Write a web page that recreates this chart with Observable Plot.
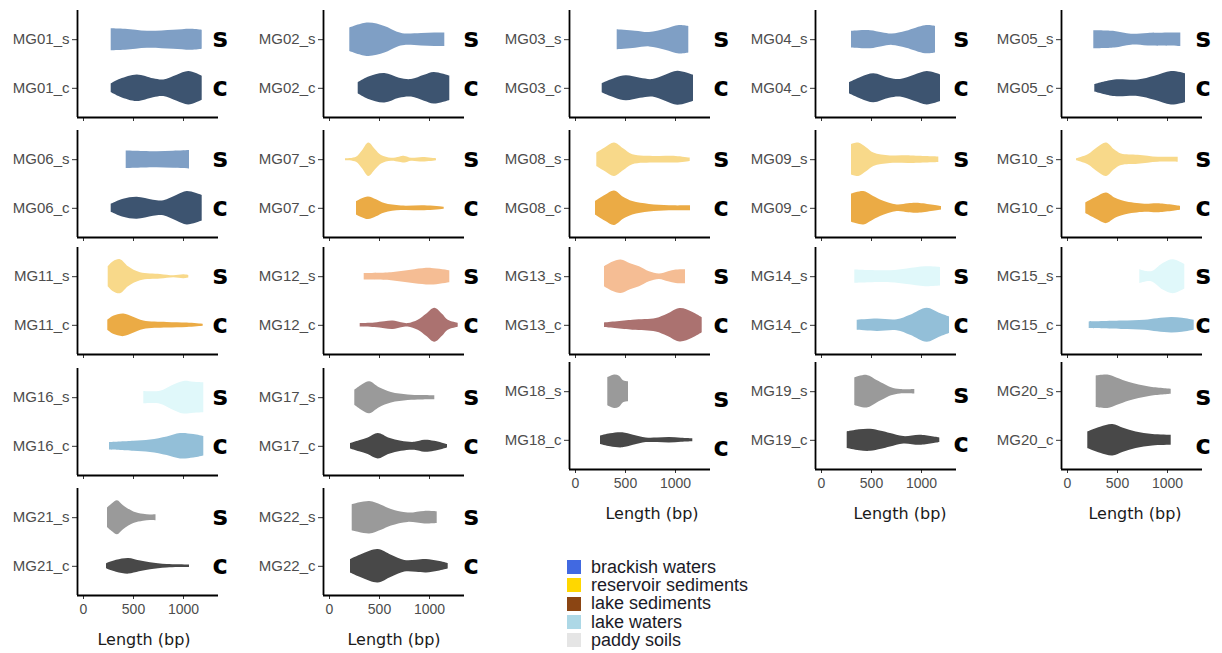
<!DOCTYPE html>
<html>
<head>
<meta charset="utf-8">
<script src="https://cdn.jsdelivr.net/npm/d3@7"></script>
<script src="https://cdn.jsdelivr.net/npm/@observablehq/plot@0.6"></script>
<style>
  body { margin: 0; background: #fff; }
  #fig { position: relative; width: 1222px; height: 653px; overflow: hidden; background: #fff; }
  #legend { position: absolute; left: 567px; top: 558px; font-family: "Liberation Sans", Arial, sans-serif; font-size: 18px; color: #1b1b28; }
  #legend .row { display: flex; align-items: center; height: 18.3px; }
  #legend .sw { width: 14px; height: 14px; margin-right: 10px; }
</style>
</head>
<body>
<div id="fig"><div id="legend"></div></div>
<script>
// ---------------- DATA ----------------
const samples = ["MG01","MG02","MG03","MG04","MG05","MG06","MG07","MG08","MG09","MG10","MG11",
                 "MG12","MG13","MG14","MG15","MG16","MG17","MG18","MG19","MG20","MG21","MG22"];
const habitats = ["brackish waters", "reservoir sediments", "lake sediments", "lake waters", "paddy soils"];
const legendColors = ["#4169E1", "#FFD700", "#8B4513", "#ADD8E6", "#E5E5E5"];
const sampleHabitat = [0,0,0,0,0,0, 1,1,1,1,1, 2,2, 3,3,3, 4,4,4,4,4,4];
const fillS = ["#7F9FC5", "#F8D98A", "#F5BD94", "#E0F8FA", "#9A9A9A"];
const fillC = ["#3D5470", "#EBAB45", "#AB7270", "#93BFD8", "#484848"];
const xTicks = [0, 500, 1000];
const xTitle = "Length (bp)";
const letters = ["s", "c"];

// violin profiles: [length (bp), density (relative half-width)]
const MG01_s = [[277,11],[420,10.5],[640,8.5],[900,9.5],[1080,10.5],[1187,9.5]];
const MG01_c = [[277,4.3],[370,9],[537,13.3],[700,9.5],[803,8.3],[937,13],[1053,16.7],[1187,12]];
const MG02_s = [[203,11.7],[387,16.7],[553,13.3],[680,7.5],[753,5.8],[920,6.3],[1053,6.7],[1153,6.7]];
const MG02_c = [[287,5.5],[387,11],[553,14.7],[700,10],[820,8.8],[950,13],[1047,15.8],[1203,12.2]];
const MG03_s = [[417,10],[600,8.5],[740,7.2],[900,10.5],[1040,14.2],[1133,13.3]];
const MG03_c = [[267,4.5],[400,10],[507,12.5],[650,10],[773,8.8],[900,13],[1023,17],[1180,13]];
const MG04_s = [[300,8.3],[490,9],[607,7],[707,5.7],[850,8.5],[1040,14],[1140,13.3]];
const MG04_c = [[280,5.5],[400,11],[523,14.5],[680,10],[790,8.8],[930,13],[1057,16.7],[1190,13.3]];
const MG05_s = [[263,9],[473,8.3],[640,5.5],[807,6.3],[1133,6.7]];
const MG05_c = [[273,3.7],[473,8.3],[707,8.2],[873,12],[1040,16.7],[1180,14.5]];
const MG06_s = [[427,8.8],[600,8.3],[737,8],[900,8.5],[1060,9.2]];
const MG06_c = [[277,4],[400,9],[537,11],[700,8],[803,7.5],[937,13],[1037,16.7],[1187,12.8]];
const MG07_s = [[160,1],[270,2.5],[330,9],[393,16.7],[460,10],[520,4.2],[620,1.5],[700,2.5],[753,3.3],[820,1.5],[937,2.3],[1070,1]];
const MG07_c = [[270,6.7],[387,11.3],[470,8.5],[553,4.7],[720,2.3],[953,2.5],[1147,1]];
const MG08_s = [[213,6.7],[300,12],[390,16.7],[480,11],[573,5],[807,3.3],[1007,3.3],[1147,1.7]];
const MG08_c = [[200,6.7],[300,13],[390,17.2],[480,11],[573,6.7],[740,3.8],[940,2.5],[1150,2.5]];
const MG09_s = [[300,15.3],[373,16.7],[450,12],[523,6.7],[690,3.8],[890,3.8],[1173,2.8]];
const MG09_c = [[300,14],[423,16.7],[500,13],[590,8.3],[757,3.3],[870,4.5],[957,5],[1200,1.7]];
const MG10_s = [[90,1],[207,5],[300,12],[390,16.7],[470,10],[540,5.8],[707,4.5],[907,2.5],[1107,2.5]];
const MG10_c = [[183,5.3],[290,11],[390,15.3],[480,10],[573,6.7],[773,4],[907,4.5],[1130,2]];
const MG11_s = [[247,10],[300,15],[370,17],[450,10],[570,4],[770,2.3],[903,1],[1003,2],[1053,1.3]];
const MG11_c = [[243,5],[300,9],[403,11.3],[500,8],[603,4.2],[837,2.8],[1037,2.2],[1197,1]];
const MG12_s = [[347,3.3],[620,4],[853,7],[1020,8.3],[1203,6]];
const MG12_c = [[307,1.7],[453,2.3],[553,3.5],[637,4.2],[720,2.5],[787,1.7],[887,5],[970,11],[1053,17],[1130,11],[1187,5],[1287,2]];
const MG13_s = [[290,10],[370,14.5],[457,16.7],[550,13],[640,10],[740,5],[840,2.7],[930,5],[1007,6.7],[1100,7]];
const MG13_c = [[290,2.3],[573,5],[807,6.7],[920,11],[1047,16.7],[1170,13],[1267,7.5]];
const MG14_s = [[333,6.7],[690,6],[857,7.8],[1040,10],[1190,9.3]];
const MG14_c = [[357,5],[557,6.2],[757,5.5],[890,10],[1057,17],[1180,12],[1280,8.3]];
const MG15_s = [[723,7],[840,5],[957,13.3],[1057,17],[1173,12.2]];
const MG15_c = [[217,3.3],[540,4.2],[773,5],[900,6.5],[1040,7.7],[1150,7],[1267,5]];
const MG16_s = [[603,6.2],[770,6.5],[887,12],[1003,16.3],[1103,15.5],[1203,15]];
const MG16_c = [[260,3.7],[503,5],[670,6.3],[837,9.3],[970,12.7],[1103,11.7],[1203,9.7]];
const MG17_s = [[253,7.5],[330,13],[403,16],[500,10],[620,5.3],[787,2.8],[920,2.2],[1053,2]];
const MG17_c = [[210,2.7],[300,5.5],[387,8.3],[487,12.7],[600,8],[720,5],[853,4],[953,6],[1050,5],[1180,1.7]];
const MG18_s = [[323,14],[390,16.7],[440,15.5],[480,11],[530,10]];
const MG18_c = [[250,4.2],[350,6.5],[473,7.5],[580,5],[707,2.3],[820,2.2],[940,2.7],[1060,2],[1173,1.5]];
const MG19_s = [[333,13.8],[457,16.3],[560,11],[623,7.8],[700,4],[790,2.2],[933,2.2]];
const MG19_c = [[257,8.3],[380,10.5],[490,11],[600,9],[690,6.7],[823,3.7],[990,5],[1183,2.3]];
const MG20_s = [[287,15.8],[403,16.7],[500,13.5],[620,9.2],[820,4.7],[1037,2.5]];
const MG20_c = [[203,8.3],[330,13],[453,15.7],[560,12],[687,8.3],[853,5.7],[1037,5]];
const MG21_s = [[240,9.7],[290,14],[340,17],[400,12],[503,5.8],[600,3.5],[670,2.8],[725,3]];
const MG21_c = [[230,2.5],[330,6],[453,7.8],[560,5.5],[670,3.5],[837,1.7],[1060,1.3]];
const MG22_s = [[227,13],[403,16.2],[520,12.5],[620,8.3],[787,4.7],[953,6.3],[1077,5.8]];
const MG22_c = [[210,6.7],[330,12],[487,16.7],[620,11],[753,5.8],[870,6],[970,6.7],[1090,5],[1187,2.8]];

const profiles = {MG01_s,MG01_c,MG02_s,MG02_c,MG03_s,MG03_c,MG04_s,MG04_c,MG05_s,MG05_c,MG06_s,MG06_c,
  MG07_s,MG07_c,MG08_s,MG08_c,MG09_s,MG09_c,MG10_s,MG10_c,MG11_s,MG11_c,MG12_s,MG12_c,MG13_s,MG13_c,
  MG14_s,MG14_c,MG15_s,MG15_c,MG16_s,MG16_c,MG17_s,MG17_c,MG18_s,MG18_c,MG19_s,MG19_c,MG20_s,MG20_c,
  MG21_s,MG21_c,MG22_s,MG22_c};

// ---------------- LAYOUT ----------------
const XDOMAIN = [-60, 1350];
const YDOMAIN = [-0.6, 1.6];
const PW = 141, PH = 107, ML = 85, MR = 40, MT = 6;
const K = (YDOMAIN[1] - YDOMAIN[0]) / PH;   // density unit -> y unit
const colAxisX = [77, 323, 569, 815, 1061];
const rowTopsLeft = [10, 130, 247, 368, 488];
const rowTopsRight = [10, 130, 247, 362];
const letterDx = [-6, -1, 3, -3, -7];
const bottomLetterDy = [0, 0, 8, 4, 6];
const titleDx = [-4, 0, 12, 14, 3];
const kindPos = {s: 1, c: 0};

const fig = document.getElementById("fig");

samples.forEach((name, i) => {
  const col = i % 5, row = Math.floor(i / 5);
  const tops = col < 2 ? rowTopsLeft : rowTopsRight;
  const isBottom = row === tops.length - 1;
  const MB = isBottom ? 62 : 10;
  const h = sampleHabitat[i];
  const toRows = kind => profiles[name + "_" + kind].map(([len, d]) => ({
    len, y1: kindPos[kind] - d * K, y2: kindPos[kind] + d * K
  }));
  const lDy = -1 + (isBottom && col >= 2 ? bottomLetterDy[col] : 0);
  const marks = [
    Plot.areaY(toRows("s"), {x: "len", y1: "y1", y2: "y2", fill: fillS[h], curve: "catmull-rom"}),
    Plot.areaY(toRows("c"), {x: "len", y1: "y1", y2: "y2", fill: fillC[h], curve: "catmull-rom"}),
    Plot.axisY([1, 0], {tickSize: 5, tickPadding: 3, label: null,
      tickFormat: d => name + "_" + (d === 1 ? "s" : "c"), fill: "#4d4d4d", stroke: "#333", fontSize: 15}),
    Plot.axisX(xTicks, {tickSize: 4, tickPadding: 5, label: null,
      tickFormat: isBottom ? d => String(d) : () => "", fill: "#4d4d4d", stroke: "#333", fontSize: 14}),
    Plot.ruleX([XDOMAIN[0]], {stroke: "#000", strokeWidth: 1.8}),
    Plot.ruleY([YDOMAIN[0]], {stroke: "#000", strokeWidth: 1.8}),
    Plot.text(letters, {y: d => kindPos[d], text: d => d, frameAnchor: "right", textAnchor: "start",
      dx: letterDx[col], dy: lDy, fontSize: 26, fontWeight: "bold", fontFamily: "DejaVu Sans", fill: "#000"})
  ];
  if (isBottom) {
    marks.push(Plot.text([xTitle], {frameAnchor: "bottom", dy: 49, dx: titleDx[col], fontSize: 16,
      fontFamily: "DejaVu Sans", fill: "#1a1a1a"}));
  }
  const svg = Plot.plot({
    width: ML + PW + MR, height: MT + PH + MB,
    marginLeft: ML, marginRight: MR, marginTop: MT, marginBottom: MB,
    x: {domain: XDOMAIN},
    y: {domain: YDOMAIN},
    style: {background: "transparent", overflow: "visible", fontFamily: "Liberation Sans, Arial, sans-serif", fontSize: "14px"},
    marks
  });
  svg.style.position = "absolute";
  svg.style.left = (colAxisX[col] - ML) + "px";
  svg.style.top = (tops[row] - MT) + "px";
  svg.style.maxWidth = "none";
  fig.appendChild(svg);
});

// legend
const legend = document.getElementById("legend");
habitats.forEach((hname, i) => {
  const r = document.createElement("div");
  r.className = "row";
  const sw = document.createElement("span");
  sw.className = "sw";
  sw.style.background = legendColors[i];
  const t = document.createElement("span");
  t.textContent = hname;
  r.appendChild(sw); r.appendChild(t);
  legend.appendChild(r);
});
</script>
</body>
</html>
